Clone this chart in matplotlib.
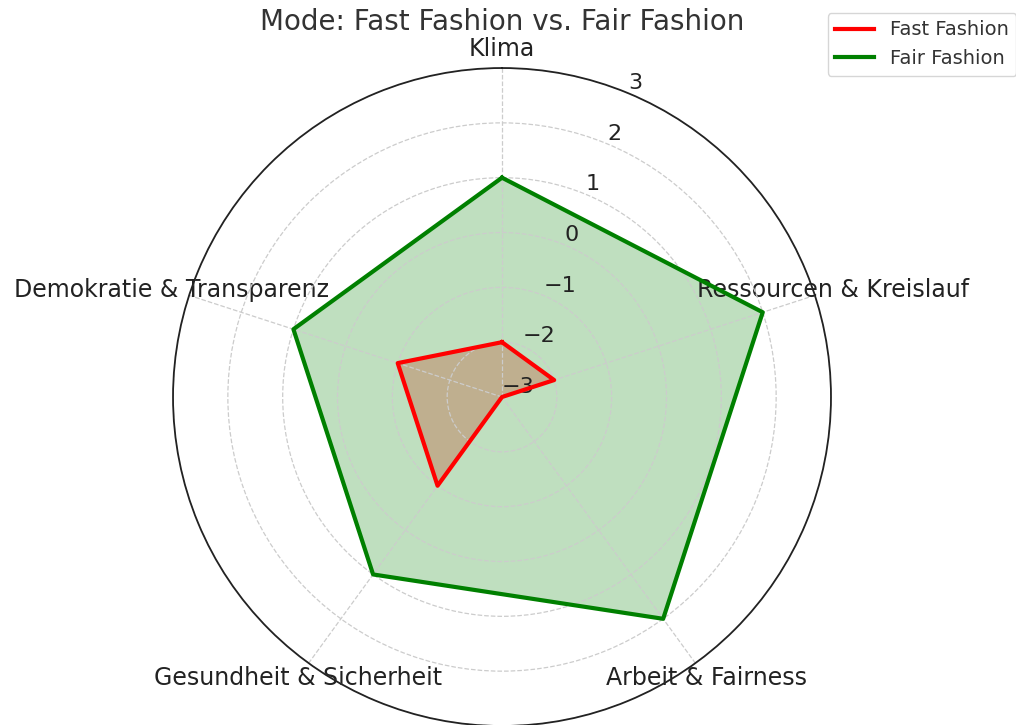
import numpy as np
import matplotlib
matplotlib.use("Agg")
import matplotlib.pyplot as plt

categories = ["Klima", "Ressourcen & Kreislauf", "Arbeit & Fairness",
              "Gesundheit & Sicherheit", "Demokratie & Transparenz"]
fast_fashion = [-2, -2, -3, -1, -1]
fair_fashion = [1, 2, 2, 1, 1]
r_ticks = [-3, -2, -1, 0, 1, 2, 3]

n = len(categories)
angles = np.linspace(0, 2 * np.pi, n, endpoint=False).tolist()
angles_c = angles + angles[:1]
fast_c = fast_fashion + fast_fashion[:1]
fair_c = fair_fashion + fair_fashion[:1]

fig = plt.figure(figsize=(10.16, 7.25), dpi=100)
ax = fig.add_axes([0.1703, -0.0014, 0.6476, 0.9076], polar=True)
ax.set_theta_offset(np.pi / 2)
ax.set_theta_direction(-1)

ax.plot(angles_c, fast_c, color="red", linewidth=3, label="Fast Fashion")
ax.fill(angles_c, fast_c, color="red", alpha=0.25)
ax.plot(angles_c, fair_c, color="green", linewidth=3, label="Fair Fashion")
ax.fill(angles_c, fair_c, color="green", alpha=0.25)

ax.set_ylim(-3, 3)
ax.set_yticks(r_ticks)
ax.set_yticklabels([f"{t}".replace("-", "\u2212") for t in r_ticks], fontsize=16, color="#222222")
ax.set_xticks(angles)
ax.set_xticklabels(categories, fontsize=17, color="#222222")
ax.tick_params(axis="x", pad=3)
ax.grid(True, color="#cccccc", linestyle="--", linewidth=0.9)
ax.spines["polar"].set_color("#222222")
ax.spines["polar"].set_linewidth(1.3)

fig.text(0.494, 0.969, "Mode: Fast Fashion vs. Fair Fashion", ha="center", va="center",
         fontsize=20, color="#333333")
leg = fig.legend(loc="upper left", bbox_to_anchor=(0.805, 0.996), fontsize=14,
                 frameon=True)
for t in leg.get_texts():
    t.set_color("#333333")

fig.savefig("out.png", dpi=100)
